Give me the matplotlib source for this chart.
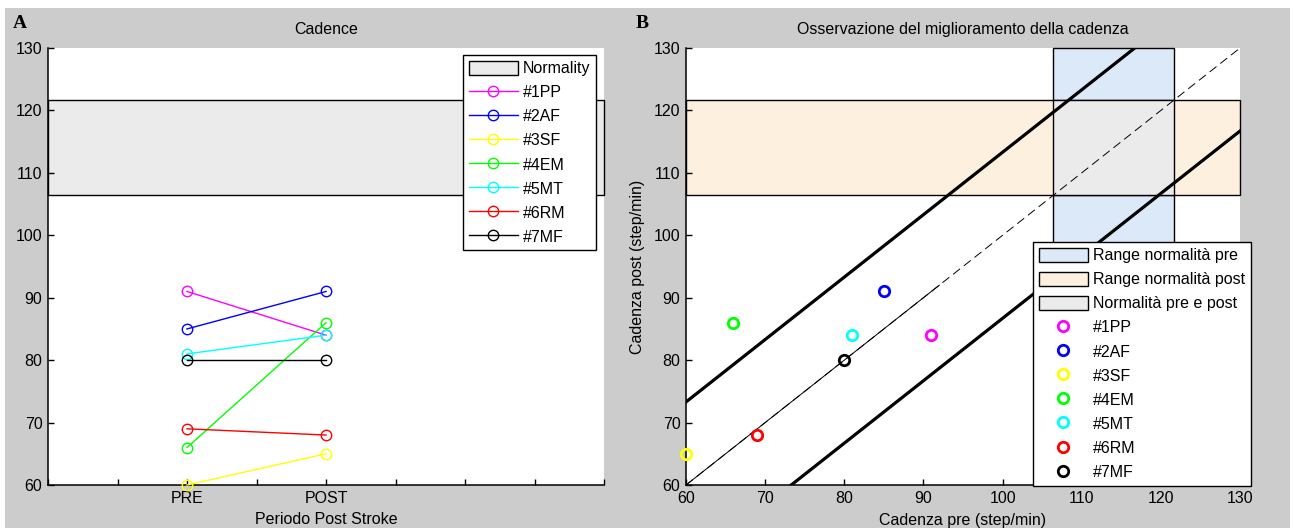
import numpy as np
import matplotlib
matplotlib.use("Agg")
import matplotlib.pyplot as plt
from matplotlib.patches import Rectangle, Patch
from matplotlib.lines import Line2D

plt.rcParams['font.family'] = ['Liberation Sans', 'DejaVu Sans']

# Cadence per subject (step/min), before and after the treatment period
subjects = ['#1PP', '#2AF', '#3SF', '#4EM', '#5MT', '#6RM', '#7MF']
colors = ['#ff00ff', '#0000ff', '#ffff00', '#00ff00', '#00ffff', '#ff0000', '#000000']
cad_pre = [91, 85, 60, 66, 81, 69, 80]
cad_post = [84, 91, 65, 86, 84, 68, 80]

# Normality range for cadence
norm_low = 106.4
norm_high = 121.6

# Minimal detectable change band around the identity line
mdc = 13.3
identity_solid_end = 92

period_ticks = [0, 1, 2, 3, 4, 5, 6, 7, 8]
period_labels = ['', '', 'PRE', '', 'POST', '', '', '', '']
pre_pos = 2
post_pos = 4

cad_ticks = [60, 70, 80, 90, 100, 110, 120, 130]

BG = '#cccccc'
FS = 11.5

W, H = 1294, 528
fig = plt.figure(figsize=(W / 100, H / 100), dpi=100)
fig.patch.set_facecolor('white')
fig.add_artist(Rectangle((5 / W, 0), 1285 / W, 1 - 8 / H, transform=fig.transFigure,
                         facecolor=BG, edgecolor='none', zorder=-10))


def px_axes(x0, x1, y0, y1):
    return fig.add_axes([x0 / W, 1 - y1 / H, (x1 - x0) / W, (y1 - y0) / H])


def style_axes(ax):
    for side in ['top', 'right']:
        ax.spines[side].set_visible(False)
    for side in ['left', 'bottom']:
        ax.spines[side].set_linewidth(1.1)
    ax.tick_params(direction='in', length=4, width=1, labelsize=FS, pad=4)


def boxed_legend(ax, handles, labels, loc, anchor):
    leg = ax.legend(handles, labels, loc=loc, bbox_to_anchor=anchor,
                    bbox_transform=fig.transFigure, fontsize=FS, frameon=True,
                    fancybox=False, framealpha=1, edgecolor='black', borderaxespad=0,
                    handlelength=3.1, handleheight=1.0, handletextpad=0.3,
                    labelspacing=0.53, borderpad=0.35)
    leg.get_frame().set_linewidth(1)
    leg.set_zorder(10)
    return leg


# ---------------------------------------------------------
# Panel A: cadence pre/post per subject
# ---------------------------------------------------------
ax1 = px_axes(48, 604, 48, 485)
style_axes(ax1)
ax1.set_xlim(period_ticks[0], period_ticks[-1])
ax1.set_ylim(cad_ticks[0], cad_ticks[-1])
ax1.add_patch(Rectangle((period_ticks[0], norm_low), period_ticks[-1] - period_ticks[0],
                        norm_high - norm_low, facecolor='#ebebeb', edgecolor='black',
                        linewidth=1, clip_on=False, zorder=1))
for name, c, a, b in zip(subjects, colors, cad_pre, cad_post):
    ax1.plot([pre_pos, post_pos], [a, b], '-o', color=c, mfc='none', mec=c,
             markersize=7.5, linewidth=1, mew=1, zorder=3, clip_on=False)
ax1.set_xticks(period_ticks)
ax1.set_xticklabels(period_labels)
ax1.set_yticks(cad_ticks)
ax1.set_xlabel('Periodo Post Stroke', fontsize=FS, labelpad=5)
ax1.set_title('Cadence', fontsize=FS, pad=10)

handles1 = [Patch(facecolor='#ebebeb', edgecolor='black', linewidth=1)]
handles1 += [Line2D([], [], color=c, marker='o', mfc='none', mec=c, markersize=7.5,
                    linewidth=1) for c in colors]
boxed_legend(ax1, handles1, ['Normality'] + subjects, 'upper right',
             (596 / W, 1 - 55 / H))

# ---------------------------------------------------------
# Panel B: post vs pre cadence
# ---------------------------------------------------------
ax2 = px_axes(686, 1240, 48, 485)
style_axes(ax2)
lo, hi = cad_ticks[0], cad_ticks[-1]
ax2.set_xlim(lo, hi)
ax2.set_ylim(lo, hi)

pre_rect = Rectangle((norm_low, lo), norm_high - norm_low, hi - lo, facecolor='#dce9f8',
                     edgecolor='black', linewidth=1, zorder=1, clip_on=False)
post_rect = Rectangle((lo, norm_low), hi - lo, norm_high - norm_low, facecolor='#fdf0de',
                      edgecolor='black', linewidth=1, zorder=1.1, clip_on=False)
both_rect = Rectangle((norm_low, norm_low), norm_high - norm_low, norm_high - norm_low,
                      facecolor='#ebebeb', edgecolor='black', linewidth=1, zorder=1.2)
for r in [pre_rect, post_rect, both_rect]:
    ax2.add_patch(r)

xs = np.array([lo, hi])
ax2.plot(xs, xs + mdc, color='black', linewidth=2.3, zorder=2)
ax2.plot(xs, xs - mdc, color='black', linewidth=2.3, zorder=2)
ax2.plot(xs, xs, color='black', linewidth=0.7, linestyle=(0, (9, 5)), zorder=2)
ax2.plot([lo, identity_solid_end], [lo, identity_solid_end], color='black',
         linewidth=0.7, zorder=2)

for name, c, a, b in zip(subjects, colors, cad_pre, cad_post):
    ax2.plot(a, b, 'o', mfc='none', mec=c, markersize=7.5, mew=2, zorder=4, clip_on=False)

ax2.set_xticks(cad_ticks)
ax2.set_yticks(cad_ticks)
ax2.set_xlabel('Cadenza pre (step/min)', fontsize=FS, labelpad=5)
ax2.set_ylabel('Cadenza post (step/min)', fontsize=FS, labelpad=6)
ax2.set_title('Osservazione del miglioramento della cadenza', fontsize=FS, pad=10)

handles2 = [Patch(facecolor='#dce9f8', edgecolor='black', linewidth=1),
            Patch(facecolor='#fdf0de', edgecolor='black', linewidth=1),
            Patch(facecolor='#ebebeb', edgecolor='black', linewidth=1)]
handles2 += [Line2D([], [], linestyle='none', marker='o', mfc='none', mec=c,
                    markersize=7.5, mew=2) for c in colors]
labels2 = ['Range normalità pre', 'Range normalità post', 'Normalità pre e post'] + subjects
boxed_legend(ax2, handles2, labels2, 'upper left', (1033 / W, 1 - 242 / H))

# panel letters
fig.text(20 / W, 1 - 23 / H, 'A', fontsize=14, fontweight='bold',
         family=['Liberation Serif', 'DejaVu Serif'], ha='center', va='center')
fig.text(642 / W, 1 - 23 / H, 'B', fontsize=14, fontweight='bold',
         family=['Liberation Serif', 'DejaVu Serif'], ha='center', va='center')

plt.savefig('out.png', dpi=100, facecolor=fig.get_facecolor())
